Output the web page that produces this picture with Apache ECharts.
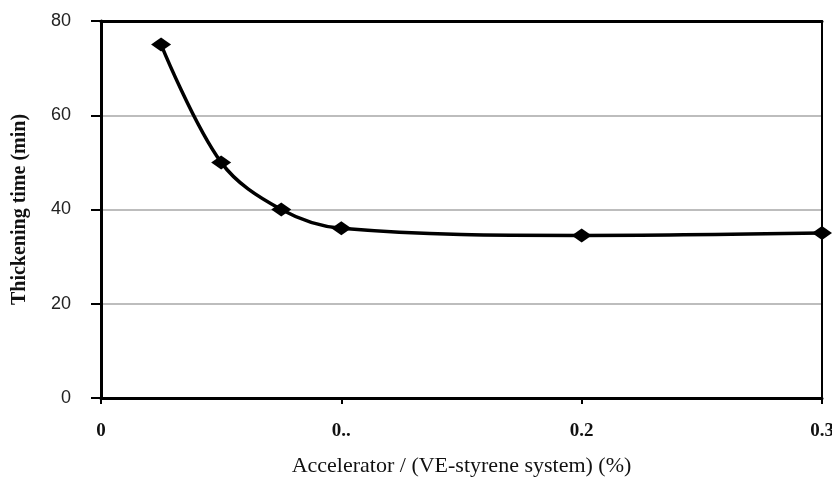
<!DOCTYPE html>
<html lang="en">
<head>
    <meta charset="UTF-8">
    <title>Thickening time</title>
    <style>
        *{ margin: 0; padding: 0; }
        body,html{ width: 100%; height: 100%; background: #fff; }
    </style>
</head>
<body>
<div id="main" style="width: 832px;height: 479px;"></div>
<script src="https://cdn.jsdelivr.net/npm/echarts@6/dist/echarts.min.js"></script>
<script type="text/javascript">
    // accelerator content (%) and thickening time (min)
    var accel = [0.025, 0.05, 0.075, 0.1, 0.2, 0.3];
    var thickTime = [75, 50, 40, 36, 34.5, 35];
    var xTicks = {0: '0', 0.1: '0..', 0.2: '0.2', 0.3: '0.3'};

    var points = accel.map(function (a, i) { return [a, thickTime[i]]; });

    var myChart = echarts.init(document.getElementById('main'));
    var option = {
        animation: false,
        grid: {left: 101, right: 10, top: 21, bottom: 81, outerBoundsMode: 'none', containLabel: false},
        xAxis: [{
            type: 'value',
            min: 0, max: 0.3, interval: 0.1,
            name: 'Accelerator / (VE-styrene system) (%)',
            nameLocation: 'middle',
            nameGap: 57,
            nameTextStyle: {fontFamily: 'Liberation Serif', fontSize: 22, color: '#111'},
            axisLine: {lineStyle: {color: '#000', width: 3}},
            axisTick: {show: true, length: 6, lineStyle: {color: '#000', width: 2}},
            axisLabel: {
                margin: 24,
                fontFamily: 'Liberation Serif', fontSize: 19, fontWeight: 'bold', color: '#111',
                formatter: function (v) {
                    var k = Math.round(v * 10) / 10;
                    return xTicks[k] !== undefined ? xTicks[k] : String(v);
                }
            },
            splitLine: {show: false}
        }, {
            // top frame line
            type: 'value', position: 'top',
            min: 0, max: 0.3,
            axisLine: {show: true, onZero: false, lineStyle: {color: '#000', width: 3}},
            axisTick: {show: false}, axisLabel: {show: false}, splitLine: {show: false}
        }],
        yAxis: [{
            type: 'value',
            min: 0, max: 80, interval: 20,
            name: 'Thickening time (min)',
            nameLocation: 'middle',
            nameGap: 71,
            nameTextStyle: {fontFamily: 'Liberation Serif', fontSize: 20, fontWeight: 'bold', color: '#111'},
            axisLine: {show: true, lineStyle: {color: '#000', width: 3}},
            axisTick: {show: true, length: 10, lineStyle: {color: '#000', width: 2}},
            axisLabel: {
                margin: 30,
                fontFamily: 'Liberation Sans', fontSize: 18, color: '#222'
            },
            splitLine: {show: true, lineStyle: {color: '#bdbdbd', width: 2}}
        }, {
            // right frame line
            type: 'value', position: 'right',
            min: 0, max: 80,
            axisLine: {show: true, onZero: false, lineStyle: {color: '#000', width: 2}},
            axisTick: {show: false}, axisLabel: {show: false}, splitLine: {show: false}
        }],
        series: [{
            type: 'line',
            data: points,
            smooth: 0.35,
            symbol: 'diamond',
            symbolSize: [20, 14],
            itemStyle: {color: '#000'},
            lineStyle: {color: '#000', width: 3.5}
        }]
    };
    myChart.setOption(option);
</script>
</body>
</html>
